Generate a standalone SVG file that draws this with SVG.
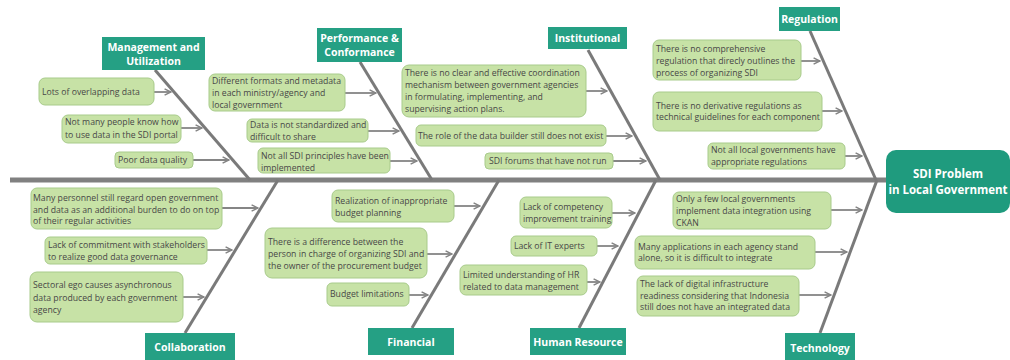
<svg xmlns="http://www.w3.org/2000/svg" width="1010" height="360" viewBox="0 0 1010 360">
<style>
.cat rect{fill:#25a084;}
.cat text{fill:#ffffff;font-family:"Open Sans","Liberation Sans",sans-serif;font-weight:bold;font-size:10.5px;text-anchor:middle;}
#head rect{fill:#1f9b7e;}
#head text{font-size:11.5px;}
.box rect{fill:#c7e2a6;stroke:#a8cb8b;stroke-width:1;}
.box text{fill:#474747;font-family:"Open Sans","Liberation Sans",sans-serif;font-size:8.7px;}
.spine{stroke:#808080;stroke-width:5;fill:none;}
.bone{stroke:#7a7a7a;stroke-width:3;fill:none;}
.arr{stroke:#858585;stroke-width:1.8;fill:none;marker-end:url(#ah);}
</style>
<defs>
<marker id="ah" viewBox="0 0 10 10" refX="9" refY="5" markerUnits="userSpaceOnUse" markerWidth="8" markerHeight="8" orient="auto">
<path d="M1,1 L9,5 L1,9" fill="none" stroke="#858585" stroke-width="1.8"/>
</marker>
</defs>
<rect width="1010" height="360" fill="#ffffff"/>

<g id="connectors">
<line class="spine" x1="10" y1="180" x2="888" y2="180"/>
<line class="bone" x1="155" y1="70" x2="250" y2="180"/>
<line class="bone" x1="360" y1="62" x2="432" y2="180"/>
<line class="bone" x1="588" y1="50" x2="660" y2="180"/>
<line class="bone" x1="810" y1="31" x2="876" y2="180"/>
<line class="bone" x1="278" y1="180" x2="185" y2="333"/>
<line class="bone" x1="499" y1="180" x2="412" y2="328"/>
<line class="bone" x1="656" y1="180" x2="579" y2="328"/>
<line class="bone" x1="877" y1="180" x2="820" y2="333"/>
<line class="arr" x1="154" y1="92" x2="171" y2="92"/>
<line class="arr" x1="181" y1="128" x2="202" y2="128"/>
<line class="arr" x1="193" y1="160" x2="229" y2="160"/>
<line class="arr" x1="345" y1="93" x2="376" y2="93"/>
<line class="arr" x1="368" y1="131" x2="399" y2="131"/>
<line class="arr" x1="390" y1="161" x2="417" y2="161"/>
<line class="arr" x1="586" y1="91" x2="607" y2="91"/>
<line class="arr" x1="606" y1="136" x2="632" y2="136"/>
<line class="arr" x1="613" y1="161" x2="646" y2="161"/>
<line class="arr" x1="801" y1="61" x2="820" y2="61"/>
<line class="arr" x1="822" y1="111" x2="842" y2="111"/>
<line class="arr" x1="845" y1="156" x2="862" y2="156"/>
<line class="arr" x1="222" y1="208" x2="258" y2="208"/>
<line class="arr" x1="207" y1="250" x2="232" y2="250"/>
<line class="arr" x1="183" y1="297" x2="204" y2="297"/>
<line class="arr" x1="454" y1="206" x2="480" y2="206"/>
<line class="arr" x1="427" y1="254" x2="452" y2="254"/>
<line class="arr" x1="409" y1="295" x2="428" y2="295"/>
<line class="arr" x1="612" y1="213" x2="635" y2="213"/>
<line class="arr" x1="597" y1="246" x2="618" y2="246"/>
<line class="arr" x1="587" y1="282" x2="600" y2="282"/>
<line class="arr" x1="831" y1="210" x2="862" y2="210"/>
<line class="arr" x1="815" y1="252" x2="847" y2="252"/>
<line class="arr" x1="799" y1="295" x2="831" y2="295"/>
</g>

<g id="head" class="cat">
<rect x="886" y="150" width="124" height="63" rx="10"/>
<text x="948" y="178">SDI Problem</text>
<text x="948" y="194">in Local Government</text>
</g>

<g id="cat-management" class="cat">
<rect x="102" y="37" width="103" height="33"/>
<text x="153.5" y="51">Management and</text>
<text x="153.5" y="65">Utilization</text>
</g>
<g id="cat-performance" class="cat">
<rect x="317" y="28" width="85" height="34"/>
<text x="359.5" y="42">Performance &amp;</text>
<text x="359.5" y="56">Conformance</text>
</g>
<g id="cat-institutional" class="cat">
<rect x="548" y="27" width="79" height="22"/>
<text x="587.5" y="42">Institutional</text>
</g>
<g id="cat-regulation" class="cat">
<rect x="779" y="7" width="61" height="24"/>
<text x="809.5" y="23">Regulation</text>
</g>
<g id="cat-collaboration" class="cat">
<rect x="145" y="333" width="90" height="30"/>
<text x="190" y="351">Collaboration</text>
</g>
<g id="cat-financial" class="cat">
<rect x="368" y="328" width="86" height="27"/>
<text x="411" y="346">Financial</text>
</g>
<g id="cat-hr" class="cat">
<rect x="530" y="328" width="96" height="27"/>
<text x="578" y="346">Human Resource</text>
</g>
<g id="cat-technology" class="cat">
<rect x="785" y="333" width="70" height="30"/>
<text x="820" y="352">Technology</text>
</g>

<g id="m1" class="box"><rect x="39" y="78" width="115" height="27" rx="6"/>
<text x="42" y="95">Lots of overlapping data</text></g>
<g id="m2" class="box"><rect x="62" y="115" width="119" height="28" rx="6"/>
<text x="65" y="125">Not many people know how</text><text x="65" y="138">to use data in the SDI portal</text></g>
<g id="m3" class="box"><rect x="115" y="152" width="78" height="16" rx="4"/>
<text x="118" y="163">Poor data quality</text></g>

<g id="p1" class="box"><rect x="209" y="74" width="136" height="37" rx="6"/>
<text x="212" y="84">Different formats and metadata</text><text x="212" y="96">in each ministry/agency and</text><text x="212" y="108">local government</text></g>
<g id="p2" class="box"><rect x="247" y="119" width="121" height="23" rx="5"/>
<text x="250" y="128">Data is not standardized and</text><text x="250" y="140">difficult to share</text></g>
<g id="p3" class="box"><rect x="258" y="148" width="132" height="25" rx="5"/>
<text x="261" y="159">Not all SDI principles have been</text><text x="261" y="171">implemented</text></g>

<g id="i1" class="box"><rect x="402" y="65" width="184" height="52" rx="7"/>
<text x="405" y="76">There is no clear and effective coordination</text><text x="405" y="88">mechanism between government agencies</text><text x="405" y="100">in formulating, implementing, and</text><text x="405" y="112">supervising action plans.</text></g>
<g id="i2" class="box"><rect x="416" y="125" width="190" height="21" rx="5"/>
<text x="418" y="139">The role of the data builder still does not exist</text></g>
<g id="i3" class="box"><rect x="485" y="153" width="128" height="16" rx="4"/>
<text x="489" y="164">SDI forums that have not run</text></g>

<g id="r1" class="box"><rect x="653" y="40" width="148" height="40" rx="6"/>
<text x="656" y="52">There is no comprehensive</text><text x="656" y="64">regulation that direcly outlines the</text><text x="656" y="76">process of organizing SDI</text></g>
<g id="r2" class="box"><rect x="653" y="92" width="169" height="39" rx="6"/>
<text x="656" y="109">There is no derivative regulations as</text><text x="656" y="120">technical guidelines for each component</text></g>
<g id="r3" class="box"><rect x="708" y="143" width="137" height="26" rx="5"/>
<text x="711" y="153">Not all local governments have</text><text x="711" y="165">appropriate regulations</text></g>

<g id="c1" class="box"><rect x="31" y="188" width="191" height="41" rx="6"/>
<text x="33" y="201">Many personnel still regard open government</text><text x="33" y="212.5">and data as an additional burden to do on top</text><text x="33" y="224">of their regular activities</text></g>
<g id="c2" class="box"><rect x="45" y="237" width="162" height="27" rx="5"/>
<text x="48" y="248">Lack of commitment with stakeholders</text><text x="48" y="260">to realize good data governance</text></g>
<g id="c3" class="box"><rect x="30" y="272" width="153" height="50" rx="7"/>
<text x="33" y="288">Sectoral ego causes asynchronous</text><text x="33" y="301">data produced by each government</text><text x="33" y="313">agency</text></g>

<g id="f1" class="box"><rect x="332" y="190" width="122" height="32" rx="6"/>
<text x="335" y="204">Realization of inappropriate</text><text x="335" y="216">budget planning</text></g>
<g id="f2" class="box"><rect x="265" y="228" width="162" height="50" rx="7"/>
<text x="268" y="245">There is a difference between the</text><text x="268" y="257">person in charge of organizing SDI and</text><text x="268" y="269">the owner of the procurement budget</text></g>
<g id="f3" class="box"><rect x="327" y="283" width="82" height="23" rx="5"/>
<text x="330" y="297">Budget limitations</text></g>

<g id="h1" class="box"><rect x="520" y="197" width="92" height="31" rx="6"/>
<text x="523" y="210">Lack of competency</text><text x="523" y="222">improvement training</text></g>
<g id="h2" class="box"><rect x="511" y="236" width="86" height="20" rx="5"/>
<text x="514" y="249">Lack of IT experts</text></g>
<g id="h3" class="box"><rect x="460" y="265" width="127" height="30" rx="6"/>
<text x="463" y="278">Limited understanding of HR</text><text x="463" y="290">related to data management</text></g>

<g id="t1" class="box"><rect x="673" y="192" width="158" height="37" rx="6"/>
<text x="676" y="202">Only a few local governments</text><text x="676" y="214">implement data integration using</text><text x="676" y="226">CKAN</text></g>
<g id="t2" class="box"><rect x="635" y="236" width="180" height="33" rx="6"/>
<text x="638" y="250">Many applications in each agency stand</text><text x="638" y="261">alone, so it is difficult to integrate</text></g>
<g id="t3" class="box"><rect x="637" y="276" width="162" height="40" rx="6"/>
<text x="640" y="287">The lack of digital infrastructure</text><text x="640" y="299">readiness considering that Indonesia</text><text x="640" y="310">still does not have an integrated data</text></g>
</svg>
